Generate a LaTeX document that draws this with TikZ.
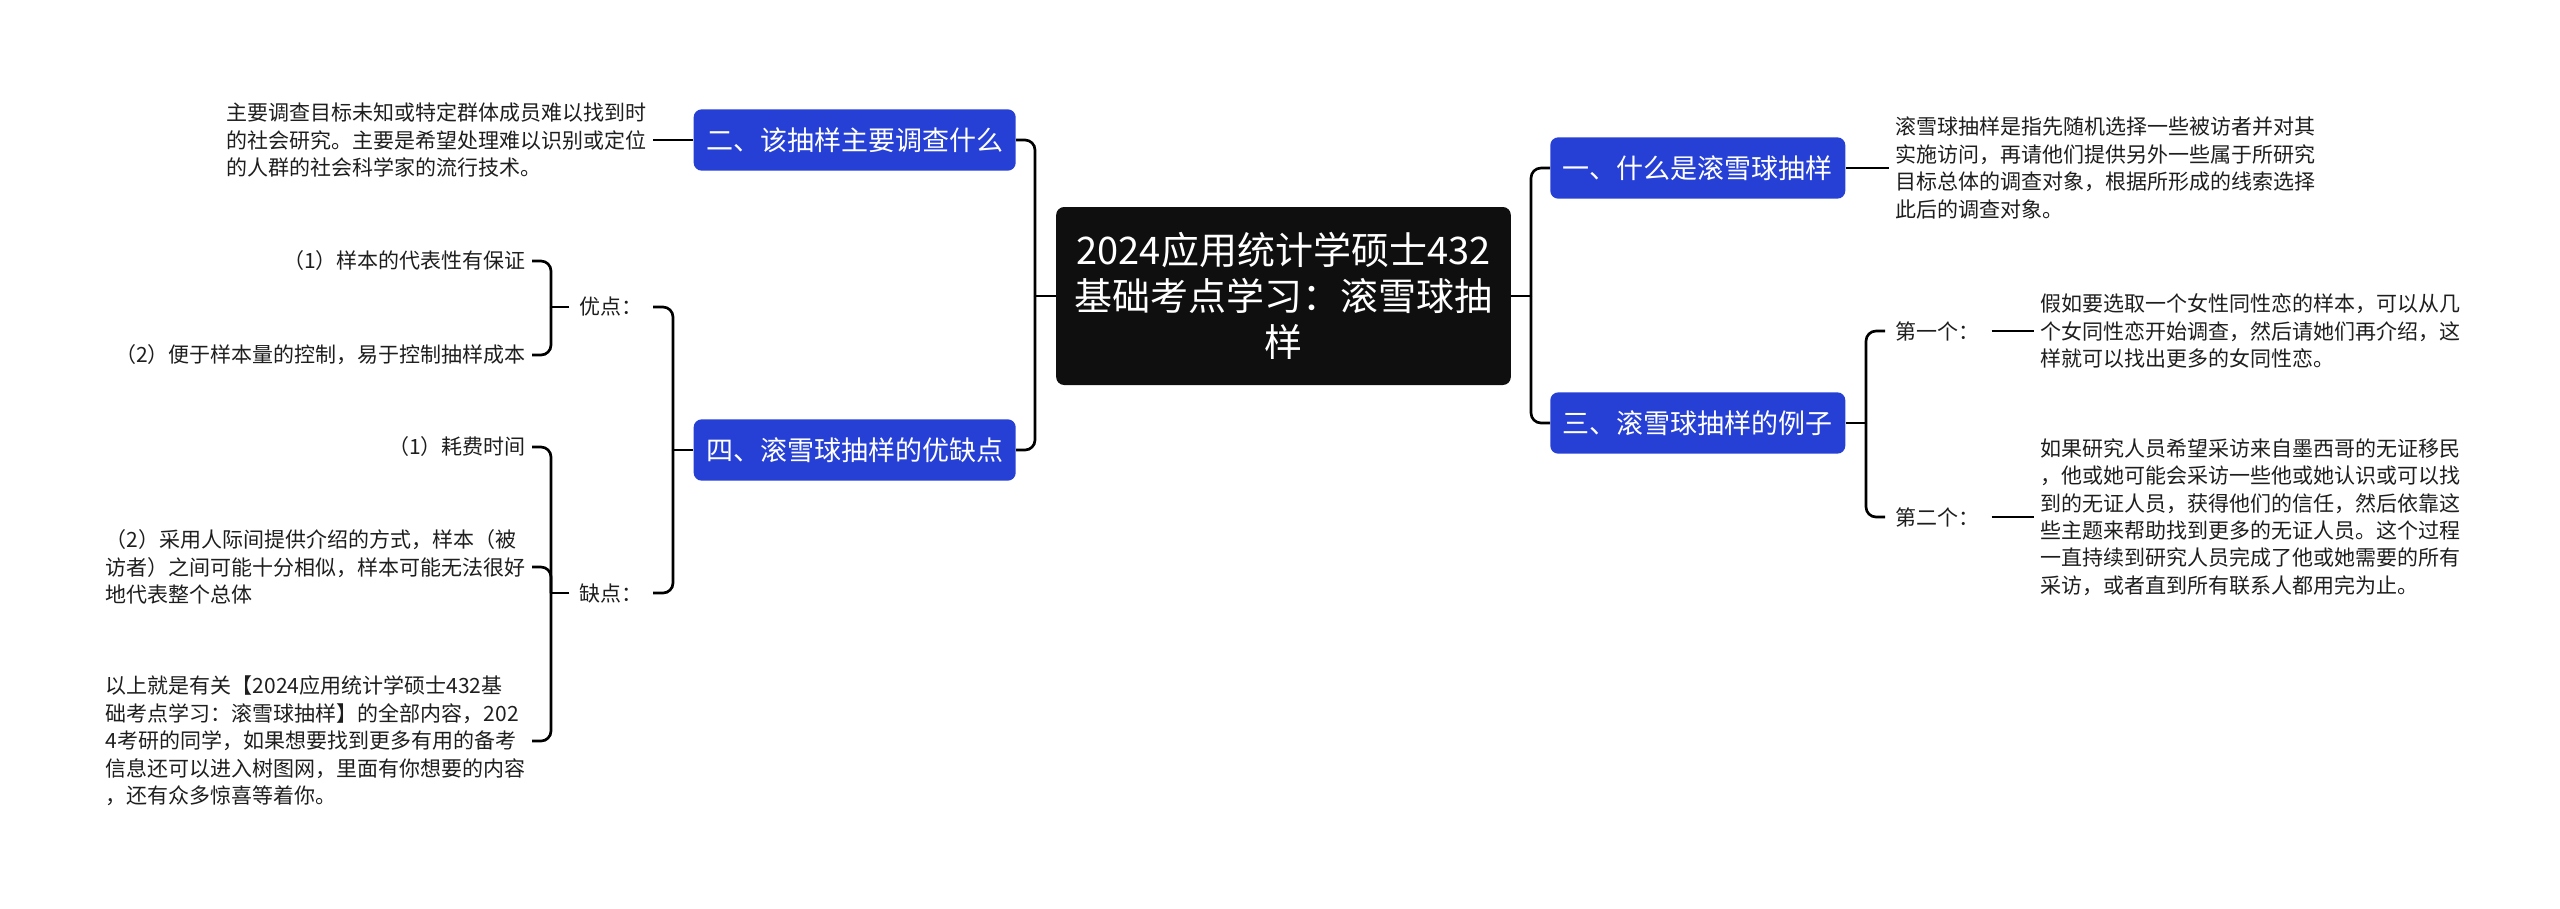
\documentclass[tikz,border=0pt]{standalone}
\usepackage{fontspec}
\setmainfont{Noto Sans CJK SC}
\definecolor{topicblue}{HTML}{2640D6}
\definecolor{rootblack}{HTML}{0F0F0F}
\definecolor{txtgray}{HTML}{1E1E1E}

\begin{document}
\begin{tikzpicture}[x=0.75pt,y=-0.75pt,
    rootbox/.style={fill=rootblack, text=white, rounded corners=6pt, align=center,
        minimum width=341pt, minimum height=133.5pt, font=\fontsize{28.5pt}{34.5pt}\selectfont},
    topicbox/.style={fill=topicblue, text=white, rounded corners=6pt, inner xsep=9.4pt,
        minimum height=46pt, font=\fontsize{20.25pt}{24pt}\selectfont},
    txt/.style={text=txtgray, align=left, inner xsep=4.5pt, inner ysep=0pt,
        font=\fontsize{15.75pt}{20.6pt}\selectfont},
    lbl/.style={text=txtgray, align=left, inner xsep=7.5pt, inner ysep=0pt, text width=#1,
        font=\fontsize{15.75pt}{20.6pt}\selectfont},
    lbl/.default=47.25pt,
    link/.style={draw=black, line width=2pt},
    elbow/.style={link, rounded corners=7.5pt}]

    % 画布大小 (像素坐标)
    \useasboundingbox (0,0) rectangle (2560,908);

    % 中心主题
    \node[rootbox] (root) at (1283.5,296) {2024应用统计学硕士432\\基础考点学习：滚雪球抽\\样};

    % 一级分支
    \node[topicbox, anchor=east] (q2) at (1016,140) {二、该抽样主要调查什么};
    \node[topicbox, anchor=east] (q4) at (1016,450) {四、滚雪球抽样的优缺点};
    \node[topicbox, anchor=west] (q1) at (1550,168) {一、什么是滚雪球抽样};
    \node[topicbox, anchor=west] (q3) at (1550,423) {三、滚雪球抽样的例子};

    % 分叉点
    \coordinate (lj) at (1035,296);
    \coordinate (rj) at (1531,296);
    \coordinate (jq4) at (673,450);
    \coordinate (gj) at (551,307);
    \coordinate (bj) at (551,593);
    \coordinate (ej) at (1866,423);

    % 左侧说明文字
    \node[txt, anchor=east] (t2) at (653,140) {主要调查目标未知或特定群体成员难以找到时\\的社会研究。主要是希望处理难以识别或定位\\的人群的社会科学家的流行技术。};

    \node[lbl, anchor=east] (good) at (653,307) {优点：};
    \node[lbl, anchor=east] (bad) at (653,593) {缺点：};

    \node[txt, anchor=east] (g1) at (532,261) {（1）样本的代表性有保证};
    \node[txt, anchor=east] (g2) at (532,355) {（2）便于样本量的控制，易于控制抽样成本};

    \node[txt, anchor=east] (b1) at (532,447) {（1）耗费时间};
    \node[txt, anchor=east] (b2) at (532,567) {（2）采用人际间提供介绍的方式，样本（被\\访者）之间可能十分相似，样本可能无法很好\\地代表整个总体};
    \node[txt, anchor=east] (b3) at (532,741) {以上就是有关【2024应用统计学硕士432基\\础考点学习：滚雪球抽样】的全部内容，202\\4考研的同学，如果想要找到更多有用的备考\\信息还可以进入树图网，里面有你想要的内容\\，还有众多惊喜等着你。};

    % 右侧说明文字
    \node[txt, anchor=west] (t1) at (1889,168) {滚雪球抽样是指先随机选择一些被访者并对其\\实施访问，再请他们提供另外一些属于所研究\\目标总体的调查对象，根据所形成的线索选择\\此后的调查对象。};

    \node[lbl=64.5pt, anchor=west] (e1) at (1885,331) {第一个：};
    \node[lbl=64.5pt, anchor=west] (e2) at (1885,517) {第二个：};

    \node[txt, anchor=west] (x1) at (2034,331) {假如要选取一个女性同性恋的样本，可以从几\\个女同性恋开始调查，然后请她们再介绍，这\\样就可以找出更多的女同性恋。};
    \node[txt, anchor=west] (x2) at (2034,517) {如果研究人员希望采访来自墨西哥的无证移民\\，他或她可能会采访一些他或她认识或可以找\\到的无证人员，获得他们的信任，然后依靠这\\些主题来帮助找到更多的无证人员。这个过程\\一直持续到研究人员完成了他或她需要的所有\\采访，或者直到所有联系人都用完为止。};

    % 连线
    \draw[link] (root.west) -- (lj);
    \draw[link] (root.east) -- (rj);
    \foreach \c in {q2,q4} {
        \draw[elbow] (lj) |- (\c.east);
    }
    \foreach \c in {q1,q3} {
        \draw[elbow] (rj) |- (\c.west);
    }

    \draw[link] (q2.west) -- (t2.east);
    \draw[link] (q1.east) -- (t1.west);

    \draw[link] (q4.west) -- (jq4);
    \foreach \c in {good,bad} {
        \draw[elbow] (jq4) |- (\c.east);
    }
    \draw[link] (good.west) -- (gj);
    \foreach \c in {g1,g2} {
        \draw[elbow] (gj) |- (\c.east);
    }
    \draw[link] (bad.west) -- (bj);
    \foreach \c in {b1,b2,b3} {
        \draw[elbow] (bj) |- (\c.east);
    }

    \draw[link] (q3.east) -- (ej);
    \foreach \c in {e1,e2} {
        \draw[elbow] (ej) |- (\c.west);
    }
    \draw[link] (e1.east) -- (x1.west);
    \draw[link] (e2.east) -- (x2.west);

\end{tikzpicture}
\end{document}
